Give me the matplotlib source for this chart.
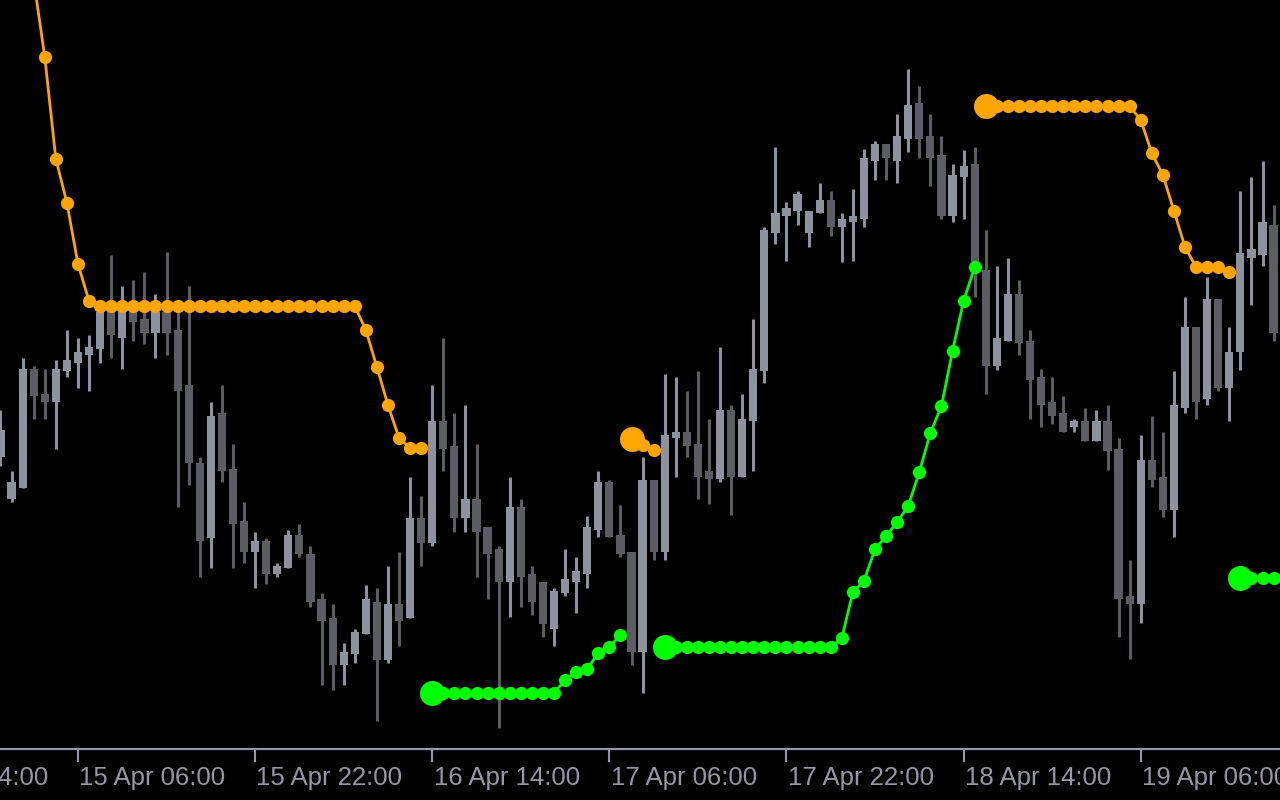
import matplotlib.pyplot as plt
import matplotlib.transforms as mtransforms
import numpy as np

# H1 bars, first bar 14 Apr 23:00
opens = [543, 501, 512, 631, 606, 598, 629, 637, 645, 651,
         688, 662, 688, 681, 667, 688, 670, 615, 537, 462,
         587, 531, 479, 448, 459, 426, 432, 465, 446, 401,
         382, 335, 346, 366, 398, 340, 396, 382, 482, 457,
         579, 554, 482, 501, 473, 451, 418, 493, 426, 418,
         371, 407, 418, 426, 470, 518, 465, 448, 348, 520,
         448, 562, 568, 556, 529, 521, 590, 523, 579, 629,
         767, 784, 789, 767, 787, 800, 773, 778, 781, 839,
         856, 839, 861, 897, 864, 845, 784, 823, 836, 730,
         634, 659, 706, 659, 623, 598, 587, 573, 579, 559,
         579, 551, 404, 396, 540, 523, 490, 592, 673, 601,
         701, 612, 648, 742, 745, 775]
highs = [590, 529, 642, 634, 631, 640, 670, 662, 665, 700,
         745, 714, 720, 728, 706, 748, 692, 714, 543, 598,
         615, 556, 498, 468, 462, 437, 470, 476, 454, 407,
         396, 357, 371, 415, 412, 434, 448, 523, 504, 615,
         662, 587, 595, 556, 473, 454, 523, 501, 434, 418,
         412, 451, 443, 484, 529, 520, 495, 448, 543, 520,
         626, 623, 609, 629, 581, 653, 595, 606, 681, 773,
         853, 798, 809, 789, 817, 809, 787, 811, 851, 859,
         856, 886, 931, 914, 886, 864, 836, 850, 853, 770,
         734, 742, 720, 670, 631, 623, 604, 581, 592, 590,
         595, 562, 440, 565, 584, 568, 629, 703, 673, 723,
         701, 673, 809, 823, 839, 795]
lows = [534, 498, 512, 581, 581, 551, 623, 612, 609, 637,
        642, 631, 659, 656, 642, 645, 493, 515, 423, 432,
        518, 432, 437, 412, 416, 423, 432, 443, 393, 315,
        310, 315, 337, 366, 279, 337, 354, 382, 434, 454,
        529, 468, 468, 423, 401, 272, 383, 393, 385, 363,
        354, 404, 387, 412, 463, 463, 443, 335, 307, 440,
        440, 523, 543, 501, 496, 518, 485, 523, 529, 617,
        756, 739, 775, 753, 787, 764, 738, 739, 773, 820,
        820, 817, 848, 842, 814, 781, 778, 781, 703, 606,
        630, 659, 645, 581, 573, 576, 568, 568, 559, 559,
        530, 363, 341, 377, 513, 483, 463, 587, 581, 595,
        609, 579, 630, 695, 734, 659]
closes = [570, 518, 631, 604, 598, 631, 640, 648, 653, 688,
          665, 688, 678, 667, 688, 667, 609, 537, 459, 584,
          529, 476, 448, 459, 426, 434, 465, 446, 398, 379,
          335, 348, 368, 401, 340, 396, 379, 482, 457, 579,
          551, 482, 501, 468, 446, 418, 493, 423, 398, 376,
          409, 421, 429, 473, 518, 463, 446, 348, 520, 448,
          565, 568, 554, 523, 521, 590, 523, 581, 631, 770,
          787, 792, 806, 789, 800, 773, 781, 784, 842, 856,
          842, 864, 895, 861, 842, 784, 825, 834, 738, 634,
          662, 706, 657, 620, 595, 584, 568, 579, 559, 579,
          549, 401, 396, 540, 520, 490, 595, 673, 598, 701,
          612, 648, 747, 751, 778, 667]
# parabolic SAR value per bar
sar = [np.nan, np.nan, np.nan, 1020, 943, 841, 797, 736, 699, 694,
       694, 694, 694, 694, 694, 694, 694, 694, 694, 694,
       694, 694, 694, 694, 694, 694, 694, 694, 694, 694,
       694, 694, 694, 670, 633, 595, 562, 552, 552, 307,
       307, 307, 307, 307, 307, 307, 307, 307, 307, 307,
       307, 320, 328, 331, 347, 353, 365, 561, 555, 550,
       353, 353, 353, 353, 353, 353, 353, 353, 353, 353,
       353, 353, 353, 353, 353, 353, 362, 408, 419, 451,
       464, 478, 494, 528, 567, 594, 649, 699, 733, 894,
       894, 894, 894, 894, 894, 894, 894, 894, 894, 894,
       894, 894, 894, 880, 847, 825, 789, 753, 733, 733,
       733, 728, 422, 422, 422, 422]

tick_bars = [-9, 7, 23, 39, 55, 71, 87, 103]
tick_labels = ['14 Apr 14:00', '15 Apr 06:00', '15 Apr 22:00', '16 Apr 14:00',
               '17 Apr 06:00', '17 Apr 22:00', '18 Apr 14:00', '19 Apr 06:00']

BULL = '#8e919e'
BEAR = '#5c5d62'
ORANGE = '#ffa500'
LIME = '#00ff00'
GREY = '#9597a4'

o = np.array(opens, dtype=float)
h = np.array(highs, dtype=float)
l = np.array(lows, dtype=float)
c = np.array(closes, dtype=float)
s = np.array(sar, dtype=float)
x = np.arange(len(o))

fig = plt.figure(figsize=(12.8, 8), dpi=100, facecolor='black')
ax = fig.add_axes([0, 51 / 800, 1, 749 / 800])
ax.set_facecolor('black')

# candles
up = c > o
cols = np.where(up, BULL, BEAR)
ax.vlines(x, l, h, colors=cols, lw=2.2, zorder=1)
body = np.maximum(np.abs(c - o), 1.5)
ax.bar(x, body, bottom=np.minimum(o, c), width=0.74, color=cols, zorder=2)

# SAR: split into runs above / below price
above = s > c
start = int(np.where(~np.isnan(s))[0][0])
for i in range(start + 1, len(s) + 1):
    if i == len(s) or above[i] != above[start]:
        seg = x[start:i]
        vals = s[start:i]
        col = ORANGE if above[start] else LIME
        ax.plot(seg, vals, color=col, lw=2, zorder=3)
        ax.plot(seg, vals, 'o', ms=9.5, color=col, mec='none', zorder=4)
        ax.plot(seg[:1], vals[:1], 'o', ms=18, color=col, mec='none', zorder=5)
        start = i

for side in ['top', 'left', 'right']:
    ax.spines[side].set_visible(False)
ax.spines['bottom'].set_color(GREY)
ax.spines['bottom'].set_linewidth(1.6)
ax.set_yticks([])
ax.set_xticks(tick_bars)
ax.tick_params(axis='x', direction='out', length=9, width=1.5, color=GREY,
               labelbottom=False)
ax.set_xlim(-0.045, 115.58)
ax.set_ylim(251, 1000)

trans = mtransforms.blended_transform_factory(ax.transData, fig.transFigure)
for b, lab in zip(tick_bars, tick_labels):
    ax.text(b + 0.12, 15 / 800, lab, transform=trans, ha='left', va='baseline',
            fontsize=18.5, family=['Liberation Sans', 'DejaVu Sans'],
            color=GREY, clip_on=False)

fig.savefig('out.png', dpi=100, facecolor='black')
